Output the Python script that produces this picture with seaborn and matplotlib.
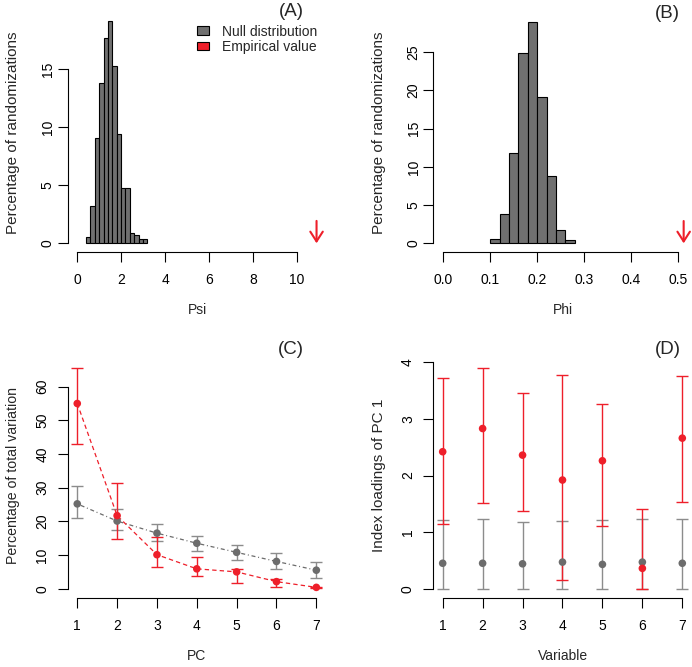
import numpy as np
import matplotlib
matplotlib.use('Agg')
import matplotlib.pyplot as plt
import seaborn as sns
from matplotlib.patches import Patch
from matplotlib.ticker import FormatStrFormatter

sns.set_style('ticks')
plt.rcParams['font.family'] = ['Liberation Sans', 'DejaVu Sans']
plt.rcParams['font.size'] = 10

# Panel A: null distribution of Psi (percent of randomizations per bin)
psi_edges = [0.4, 0.6, 0.8, 1.0, 1.2, 1.4, 1.6, 1.8, 2.0, 2.2, 2.4, 2.6, 2.8, 3.0, 3.2]
psi_pct = [0.55, 3.2, 9.1, 13.8, 17.7, 19.2, 15.3, 9.4, 4.8, 4.8, 0.92, 0.72, 0.4, 0.4]
psi_emp = 10.9

# Panel B: null distribution of Phi
phi_edges = [0.10, 0.12, 0.14, 0.16, 0.18, 0.20, 0.22, 0.24, 0.26, 0.28]
phi_pct = [0.52, 3.9, 11.8, 24.9, 28.9, 19.2, 8.8, 1.8, 0.5]
phi_emp = 0.511

# Panel C: percentage of total variation per PC
pc = [1, 2, 3, 4, 5, 6, 7]
c_null_mean = [25.2, 20.1, 16.5, 13.5, 10.8, 8.1, 5.5]
c_null_lo = [21.0, 17.3, 14.3, 11.2, 8.4, 5.8, 3.2]
c_null_hi = [30.6, 23.6, 19.2, 15.6, 13.1, 10.6, 7.9]
c_emp_mean = [55.0, 21.7, 10.1, 5.9, 5.0, 2.1, 0.4]
c_emp_lo = [43.0, 14.9, 6.4, 3.7, 1.8, 0.4, 0.2]
c_emp_hi = [65.5, 31.4, 15.4, 9.3, 6.0, 2.9, 0.6]

# Panel D: index loadings of PC 1 per variable
var = [1, 2, 3, 4, 5, 6, 7]
d_null_mean = [0.45, 0.45, 0.44, 0.47, 0.43, 0.47, 0.45]
d_null_lo = [0.0, 0.0, 0.0, 0.0, 0.0, 0.0, 0.0]
d_null_hi = [1.21, 1.23, 1.18, 1.20, 1.22, 1.24, 1.23]
d_emp_mean = [2.42, 2.83, 2.36, 1.92, 2.26, 0.36, 2.66]
d_emp_lo = [1.15, 1.52, 1.38, 0.15, 1.10, 0.0, 1.53]
d_emp_hi = [3.72, 3.90, 3.46, 3.78, 3.26, 1.40, 3.75]

GRAY_BAR = '#707070'
GRAY_PT = '#6C6C6C'
GRAY_ERR = '#8C8C8C'
RED = '#EE1F2A'

W, H = 692, 667
fig = plt.figure(figsize=(W / 100, H / 100), dpi=100)


def box(x0, x1, ytop, ybot):
    return [x0 / W, 1 - ybot / H, (x1 - x0) / W, (ybot - ytop) / H]


def r_axes(ax, xb, yb, xticks, yticks, ypad=6):
    # mimic base-R detached axis lines
    sns.despine(ax=ax)
    ax.spines['bottom'].set_bounds(*xb)
    ax.spines['left'].set_bounds(*yb)
    for s in ['bottom', 'left']:
        ax.spines[s].set_linewidth(0.8)
        ax.spines[s].set_color('black')
    ax.set_xticks(xticks)
    ax.set_yticks(yticks)
    ax.tick_params(axis='both', direction='out', length=7.2, width=0.8, colors='black', labelsize=10)
    ax.tick_params(axis='x', pad=8)
    ax.tick_params(axis='y', pad=ypad)
    for lab in ax.get_yticklabels():
        lab.set_rotation(90)
        lab.set_va('center')
    ax.grid(False)


def red_arrow(ax, x, tail):
    ax.annotate('', xy=(x, 0), xytext=(x, tail), annotation_clip=False,
                arrowprops=dict(arrowstyle='->,head_length=0.7,head_width=0.45',
                                color=RED, lw=1.5, shrinkA=0, shrinkB=0))


# (A)
axA = fig.add_axes(box(67.5, 328.4, 13, 251.5))
sns.histplot(x=[(a + b) / 2 for a, b in zip(psi_edges[:-1], psi_edges[1:])], weights=psi_pct,
             bins=psi_edges, color=GRAY_BAR, edgecolor='black', linewidth=0.8, alpha=1, ax=axA)
axA.set_xlim(-0.44, 11.44)
axA.set_ylim(-0.707, 19.85)
r_axes(axA, (0, 10), (0, 15), [0, 2, 4, 6, 8, 10], [0, 5, 10, 15], ypad=2)
red_arrow(axA, psi_emp, 1.93)
axA.set_xlabel('Psi', labelpad=12)
axA.set_ylabel('Percentage of randomizations', labelpad=15, fontsize=11)
axA.legend(handles=[Patch(facecolor=GRAY_BAR, edgecolor='black', linewidth=0.8, label='Null distribution'),
                    Patch(facecolor=RED, edgecolor='black', linewidth=0.8, label='Empirical value')],
           loc='upper left', bbox_to_anchor=(196.7 / W, 1 - 24.5 / H), bbox_transform=fig.transFigure,
           frameon=False, borderpad=0, borderaxespad=0, handlelength=0.85, handleheight=0.6,
           handletextpad=0.95, labelspacing=0.1, fontsize=10)

# (B)
axB = fig.add_axes(box(433.3, 692, 13, 251.5))
sns.histplot(x=[(a + b) / 2 for a, b in zip(phi_edges[:-1], phi_edges[1:])], weights=phi_pct,
             bins=phi_edges, color=GRAY_BAR, edgecolor='black', linewidth=0.8, alpha=1, ax=axB)
axB.set_xlim(-0.0206, 0.5287)
axB.set_ylim(-1.07, 30.14)
r_axes(axB, (0, 0.5), (0, 25), [0, 0.1, 0.2, 0.3, 0.4, 0.5], [0, 5, 10, 15, 20, 25], ypad=2)
axB.xaxis.set_major_formatter(FormatStrFormatter('%.1f'))
red_arrow(axB, phi_emp, 2.92)
axB.set_xlabel('Phi', labelpad=12)
axB.set_ylabel('Percentage of randomizations', labelpad=15, fontsize=11)

# (C)
axC = fig.add_axes(box(67.7, 325.9, 353, 597.5))
for mean, lo, hi, col, pcol, dash in [(c_null_mean, c_null_lo, c_null_hi, GRAY_ERR, GRAY_PT, (0, (0.8, 2.2, 3.2, 2.2))),
                                       (c_emp_mean, c_emp_lo, c_emp_hi, RED, RED, (0, (3.5, 2.5)))]:
    m = np.array(mean)
    sns.lineplot(x=pc, y=mean, color=pcol, linewidth=0.9, linestyle=dash, ax=axC)
    axC.errorbar(pc, mean, yerr=[m - np.array(lo), np.array(hi) - m], fmt='none',
                 ecolor=col, elinewidth=1.0, capsize=4.2, capthick=1.0, zorder=2)
    sns.scatterplot(x=pc, y=mean, color=pcol, s=30, edgecolor='none', ax=axC, zorder=3)
axC.set_xlim(0.76, 7.24)
axC.set_ylim(-2.61, 70.0)
r_axes(axC, (1, 7), (0, 60), pc, [0, 10, 20, 30, 40, 50, 60])
axC.set_xlabel('PC', labelpad=12)
axC.set_ylabel('Percentage of total variation', labelpad=11, fontsize=10.2)

# (D)
axD = fig.add_axes(box(433.3, 692, 353, 597.5))
for mean, lo, hi, col, pcol in [(d_null_mean, d_null_lo, d_null_hi, GRAY_ERR, GRAY_PT),
                                (d_emp_mean, d_emp_lo, d_emp_hi, RED, RED)]:
    m = np.array(mean)
    axD.errorbar(var, mean, yerr=[m - np.array(lo), np.array(hi) - m], fmt='none',
                 ecolor=col, elinewidth=1.0, capsize=4.2, capthick=1.0, zorder=2)
    sns.scatterplot(x=var, y=mean, color=pcol, s=30, edgecolor='none', ax=axD, zorder=3)
axD.set_xlim(0.765, 7.243)
axD.set_ylim(-0.155, 4.164)
r_axes(axD, (1, 7), (0, 4), var, [0, 1, 2, 3, 4])
axD.set_xlabel('Variable', labelpad=12)
axD.set_ylabel('Index loadings of PC 1', labelpad=11, fontsize=11)

for lab, x, y in [('(A)', 291, 12), ('(B)', 667.5, 14), ('(C)', 291, 350), ('(D)', 668, 350)]:
    fig.text(x / W, 1 - y / H, lab, ha='center', va='center', fontsize=13.5)

fig.savefig('out.png', dpi=100)
